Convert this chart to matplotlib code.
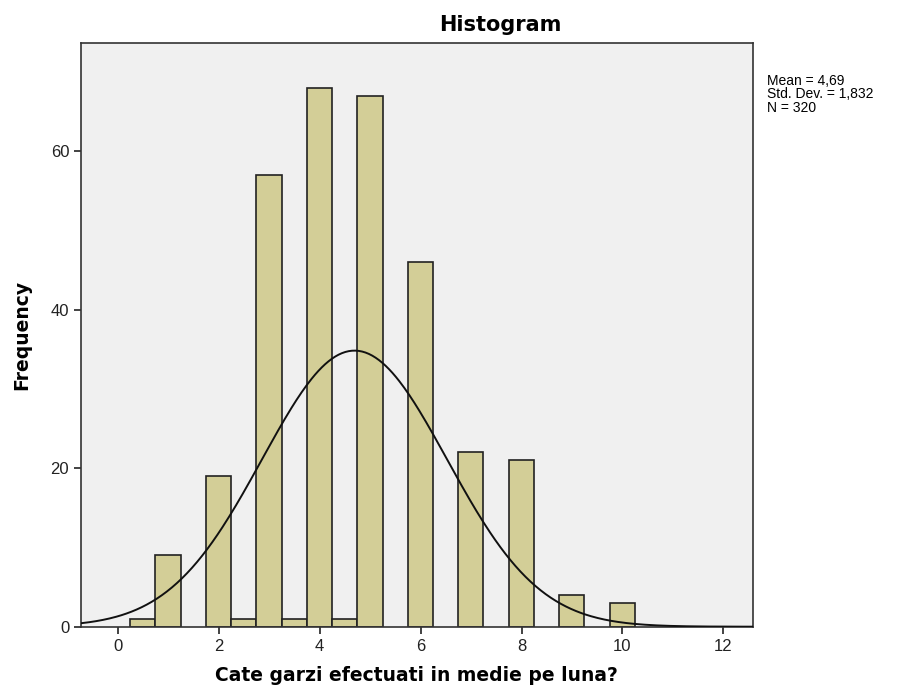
import numpy as np
import matplotlib
matplotlib.use('Agg')
import matplotlib.pyplot as plt

plt.rcParams['font.family'] = ['Liberation Sans', 'DejaVu Sans']

# bin values (left edges of the 0.5 wide bins) and counts
bin_left = [0.245, 0.745, 1.745, 2.245, 2.745, 3.245, 3.745, 4.245, 4.745,
            5.745, 6.745, 7.745, 8.745, 9.745]
counts = [1, 9, 19, 1, 57, 1, 68, 1, 67, 46, 22, 21, 4, 3]
bin_width = 0.5

mean = 4.69
std_dev = 1.832
n_total = 320

x_ticks = [0, 2, 4, 6, 8, 10, 12]
y_ticks = [0, 20, 40, 60]

fig = plt.figure(figsize=(9.07, 6.91), dpi=100)
ax = fig.add_axes([81 / 907, 1 - 626.7 / 691, (752.7 - 81) / 907, (626.7 - 42.7) / 691])
ax.set_facecolor('#F0F0F0')

ax.bar(bin_left, counts, width=bin_width, align='edge',
       color='#D3CE97', edgecolor='#222222', linewidth=1.2, zorder=2)

# normal curve from the stated mean / std dev
xs = np.linspace(-0.73, 12.58, 400)
pdf = np.exp(-0.5 * ((xs - mean) / std_dev) ** 2) / (std_dev * np.sqrt(2 * np.pi))
ax.plot(xs, pdf * n_total * bin_width, color='#111111', linewidth=1.4, zorder=3)

ax.set_xlim(-0.73, 12.58)
ax.set_ylim(0, 73.7)
ax.set_xticks(x_ticks)
ax.set_yticks(y_ticks)
ax.tick_params(direction='out', length=5, width=1.2, labelsize=12, colors='#222222')
for s in ax.spines.values():
    s.set_color('#333333')
    s.set_linewidth(1.2)

ax.set_xlabel('Cate garzi efectuati in medie pe luna?', fontsize=13.5,
              fontweight='bold', family='DejaVu Sans', labelpad=9)
ax.set_ylabel('Frequency', fontsize=13.5, fontweight='bold',
              family='DejaVu Sans', labelpad=14)

fig.text(500 / 907, 1 - 25 / 691, 'Histogram', fontsize=15, fontweight='bold',
         family='DejaVu Sans', ha='center', va='center')
fig.text(767 / 907, 1 - 74 / 691,
         'Mean = 4,69\nStd. Dev. = 1,832\nN = 320',
         fontsize=10, ha='left', va='top', linespacing=0.95)

fig.savefig('out.png', dpi=100)
